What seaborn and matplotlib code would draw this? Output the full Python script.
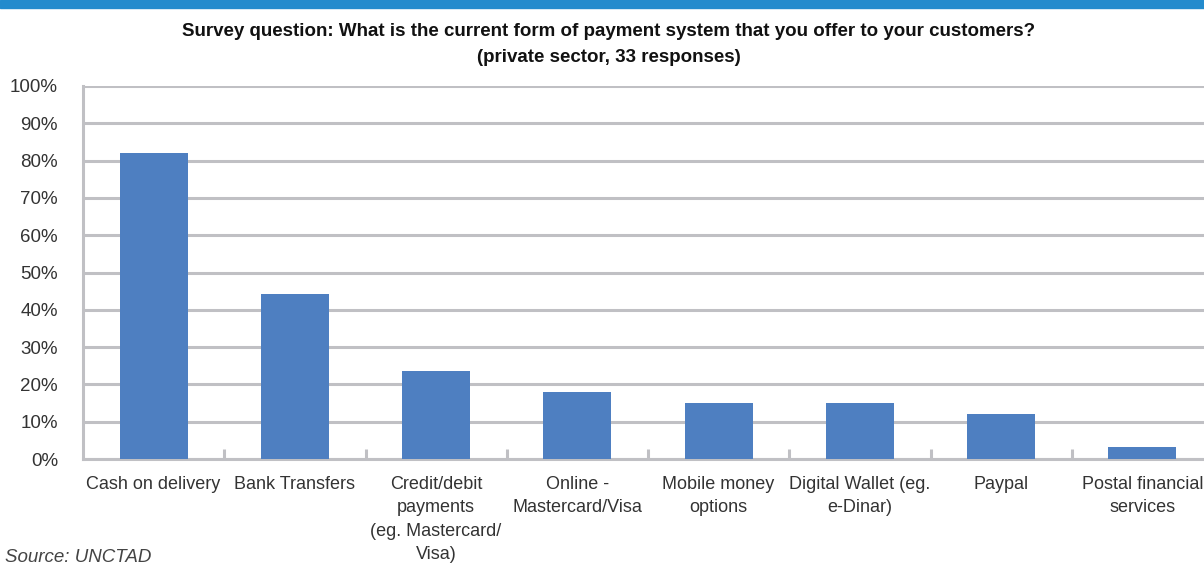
import matplotlib
matplotlib.use("Agg")
import matplotlib.pyplot as plt
import seaborn as sns
import pandas as pd
from matplotlib import font_manager
from matplotlib.patches import Rectangle
from matplotlib.ticker import FixedLocator, PercentFormatter

categories = ["Cash on delivery", "Bank Transfers",
              "Credit/debit\npayments\n(eg. Mastercard/\nVisa)",
              "Online -\nMastercard/Visa", "Mobile money\noptions",
              "Digital Wallet (eg.\ne-Dinar)", "Paypal",
              "Postal financial\nservices"]
values = [82.0, 44.3, 23.7, 17.9, 14.9, 14.9, 12.0, 3.2]
yticks = list(range(0, 101, 10))

sns.set_theme(style="white")
names = {f.name for f in font_manager.fontManager.ttflist}
fam = "Liberation Sans Narrow" if "Liberation Sans Narrow" in names else "Liberation Sans"
plt.rcParams["font.family"] = [fam, "DejaVu Sans"]

df = pd.DataFrame({"cat": categories, "val": values})

fig = plt.figure(figsize=(12.04, 5.65), dpi=100)
ax = fig.add_axes([83/1204, (565-459)/565, (1213-83)/1204, (459-86)/565])
sns.barplot(data=df, x="cat", y="val", color="#4E7FC1", width=0.48,
            saturation=1, linewidth=0, edgecolor="none", ax=ax, zorder=3)
ax.set_ylim(0, 100)
ax.set_xlim(-0.5, len(categories) - 0.5)
ax.set_yticks(yticks)
ax.yaxis.set_major_formatter(PercentFormatter(decimals=0))
ax.grid(axis="y", color="#C0C0C4", linewidth=2.2, zorder=0)
ax.set_axisbelow(True)
for s in ["top", "right"]:
    ax.spines[s].set_visible(False)
for s in ["left", "bottom"]:
    ax.spines[s].set_color("#C0C0C4")
    ax.spines[s].set_linewidth(2.2)
ax.set_xlabel("")
ax.set_ylabel("")
ax.tick_params(axis="y", length=0, pad=18, labelsize=13.5, labelcolor="#333333")
ax.tick_params(axis="x", which="major", length=0, pad=12, labelsize=13,
               labelcolor="#333333")
ax.xaxis.set_minor_locator(FixedLocator([i + 0.5 for i in range(len(categories) - 1)]))
ax.tick_params(axis="x", which="minor", direction="in", length=7, width=2.2,
               color="#C0C0C4", bottom=True)
for lbl in ax.get_xticklabels():
    lbl.set_linespacing(1.5)

fig.patches.append(Rectangle((0, 1 - 8/565), 1, 8/565, transform=fig.transFigure,
                             color="#238BCD", zorder=5))
fig.text(609/1204, 1 - 32/565, "Survey question: What is the current form of payment system that you offer to your customers?",
         ha="center", va="center", fontsize=13.5, fontweight="bold", color="#111111")
fig.text(609/1204, 1 - 58/565, "(private sector, 33 responses)",
         ha="center", va="center", fontsize=13.5, fontweight="bold", color="#111111")
fig.text(5/1204, 1 - 557/565, "Source: UNCTAD", ha="left", va="center",
         fontsize=13.5, style="italic", color="#444444")

fig.savefig("out.png", dpi=100)
